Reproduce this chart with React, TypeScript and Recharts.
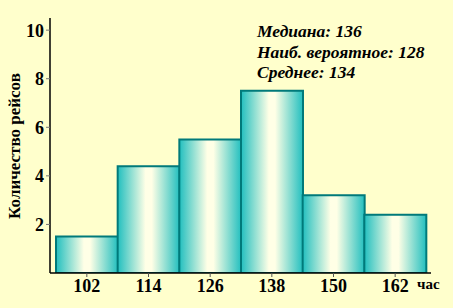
import { BarChart, Bar, XAxis, YAxis, Customized } from 'recharts';

const categories = ['102', '114', '126', '138', '150', '162'];
const flights = [1.5, 4.4, 5.5, 7.5, 3.2, 2.4];
const yTicks = [2, 4, 6, 8, 10];
const notes = ['Медиана: 136', 'Наиб. вероятное: 128', 'Среднее: 134'];

const data = categories.map((c, i) => ({ label: c, value: flights[i] }));

const serif = 'Liberation Serif, DejaVu Serif, serif';
const bg = '#ffffcc';

// labels and notes drawn on top of the chart svg
function Overlay() {
  return (
    <g>
      <text
        x={20}
        y={146}
        transform="rotate(-90 20 146)"
        textAnchor="middle"
        style={{ fontFamily: serif, fontSize: 17, fontWeight: 'bold' }}
        fill="#000"
      >
        Количество рейсов
      </text>
      {notes.map((n, i) => (
        <text
          key={n}
          x={257}
          y={37 + i * 20.5}
          style={{ fontFamily: serif, fontSize: 17.5, fontWeight: 'bold', fontStyle: 'italic' }}
          fill="#000"
        >
          {n}
        </text>
      ))}
      <text x={417} y={289} style={{ fontFamily: serif, fontSize: 15, fontWeight: 'bold' }} fill="#000">
        час
      </text>
    </g>
  );
}

const tickStyle = { fill: '#000', fontFamily: serif, fontSize: 18, fontWeight: 'bold' };

export default function App() {
  return (
    <div style={{ position: 'absolute', left: 0, top: 0, width: 453, height: 308, background: bg, fontFamily: serif }}>
      <BarChart
        width={453}
        height={308}
        data={data}
        barCategoryGap={0}
        margin={{ top: 18, right: 22, left: 0, bottom: 0 }}
      >
        <defs>
          <linearGradient id="barFill" x1="0" y1="0" x2="1" y2="0">
            <stop offset="0%" stopColor="#22bfbf" />
            <stop offset="45%" stopColor="#ffffe6" />
            <stop offset="55%" stopColor="#ffffe6" />
            <stop offset="100%" stopColor="#22bfbf" />
          </linearGradient>
        </defs>
        <XAxis
          dataKey="label"
          height={35}
          padding={{ left: 6, right: 5 }}
          axisLine={{ stroke: '#000', strokeWidth: 1.5 }}
          tickLine={{ stroke: '#555' }}
          tickSize={4}
          tick={tickStyle}
        />
        <XAxis xAxisId="top" orientation="top" height={0} tick={false} tickLine={false} axisLine={{ stroke: '#666' }} />
        <YAxis
          width={50}
          domain={[0, 10.5]}
          ticks={yTicks}
          interval={0}
          allowDataOverflow
          axisLine={{ stroke: '#000', strokeWidth: 1.5 }}
          tickLine={{ stroke: '#777' }}
          tickSize={4}
          tick={tickStyle}
        />
        <YAxis yAxisId="right" orientation="right" width={0} tick={false} tickLine={false} axisLine={{ stroke: '#000' }} />
        <Bar dataKey="value" fill="url(#barFill)" stroke="#007a7a" strokeWidth={2} isAnimationActive={false} />
        <Customized component={Overlay} />
      </BarChart>
    </div>
  );
}
